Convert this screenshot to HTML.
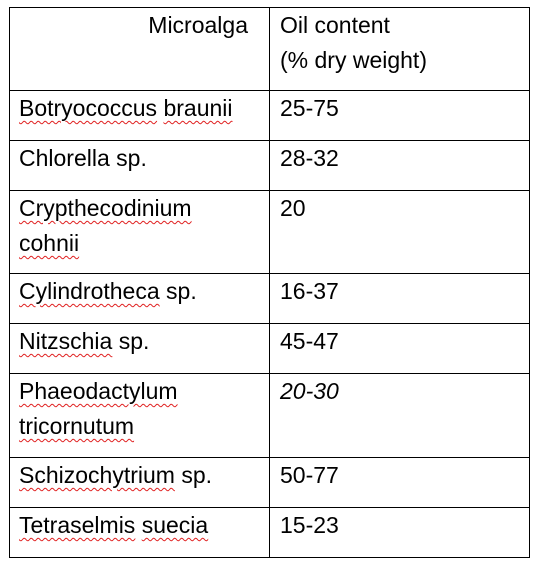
<!DOCTYPE html>
<html><head><meta charset="utf-8"><style>
html,body{margin:0;padding:0;background:#fff;width:541px;height:572px;overflow:hidden}
body{position:relative;font-family:"Liberation Sans",sans-serif;font-size:23px;color:#000}
.h{position:absolute;left:9px;width:521px;height:1px;background:#000}
.v{position:absolute;top:7px;width:1px;height:551px;background:#000}
.c{position:absolute;line-height:35px;white-space:nowrap}
.sp{text-decoration:underline wavy #e02020;text-decoration-thickness:1px;text-underline-offset:4px}
</style></head><body>
<div class="h" style="top:7px"></div>
<div class="h" style="top:90px"></div>
<div class="h" style="top:140px"></div>
<div class="h" style="top:190px"></div>
<div class="h" style="top:273px"></div>
<div class="h" style="top:323px"></div>
<div class="h" style="top:373px"></div>
<div class="h" style="top:457px"></div>
<div class="h" style="top:507px"></div>
<div class="h" style="top:557px"></div>
<div class="v" style="left:9px"></div>
<div class="v" style="left:269px"></div>
<div class="v" style="left:529px"></div>

<div class="c" style="left:20px;width:228px;top:8px;text-align:right">Microalga</div>
<div class="c" style="left:280px;top:8px">Oil content<br>(% dry weight)</div>

<div class="c" style="left:19px;top:91px"><span class="sp">Botryococcus</span> <span class="sp">braunii</span></div>
<div class="c" style="left:280px;top:91px">25-75</div>

<div class="c" style="left:19px;top:141px">Chlorella sp.</div>
<div class="c" style="left:280px;top:141px">28-32</div>

<div class="c" style="left:19px;top:191px"><span class="sp">Crypthecodinium</span><br><span class="sp">cohnii</span></div>
<div class="c" style="left:280px;top:191px">20</div>

<div class="c" style="left:19px;top:274px"><span class="sp">Cylindrotheca</span> sp.</div>
<div class="c" style="left:280px;top:274px">16-37</div>

<div class="c" style="left:19px;top:324px"><span class="sp">Nitzschia</span> sp.</div>
<div class="c" style="left:280px;top:324px">45-47</div>

<div class="c" style="left:19px;top:374px"><span class="sp">Phaeodactylum</span><br><span class="sp">tricornutum</span></div>
<div class="c" style="left:280px;top:374px;font-style:italic">20-30</div>

<div class="c" style="left:19px;top:458px"><span class="sp">Schizochytrium</span> sp.</div>
<div class="c" style="left:280px;top:458px">50-77</div>

<div class="c" style="left:19px;top:508px"><span class="sp">Tetraselmis</span> <span class="sp">suecia</span></div>
<div class="c" style="left:280px;top:508px">15-23</div>
</body></html>
